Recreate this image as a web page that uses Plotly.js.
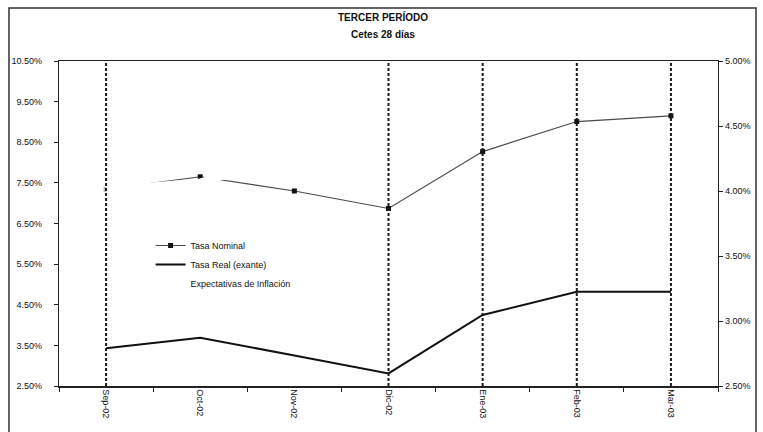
<!DOCTYPE html>
<html>
<head>
<meta charset="utf-8">
<script src="https://cdn.plot.ly/plotly-3.0.1.min.js"></script>
<style>
  html, body { margin: 0; padding: 0; background: #fff; }
  #chart { width: 763px; height: 432px; }
</style>
</head>
<body>
<div id="chart"></div>
<script>
// Months of the period
const months = ['Sep-02', 'Oct-02', 'Nov-02', 'Dic-02', 'Ene-03', 'Feb-03', 'Mar-03'];

// Cetes 28-day rates (%), left axis
const tasaNominal = [7.34, 7.65, 7.30, 6.87, 8.27, 9.01, 9.15];
const tasaReal = [3.43, 3.69, 3.25, 2.81, 4.25, 4.82, 4.82];

// Inflation expectations (%), right axis
const expectativas = [4.01, 4.07, 4.25, 4.40, 4.45, 4.62, 4.68];

// Months marked with a vertical reference line
const marcados = ['Sep-02', 'Dic-02', 'Ene-03', 'Feb-03', 'Mar-03'];

// Axis ticks
const leftTicks = [2.5, 3.5, 4.5, 5.5, 6.5, 7.5, 8.5, 9.5, 10.5];
const rightTicks = [2.5, 3.0, 3.5, 4.0, 4.5, 5.0];

const FONT = 'Liberation Sans, Arial, sans-serif';

const traces = [
  {
    name: 'Tasa Nominal',
    x: months, y: tasaNominal,
    type: 'scatter', mode: 'lines+markers',
    line: { color: '#4a4a4a', width: 1.2 },
    marker: { symbol: 'square', size: 5, color: '#111' },
    yaxis: 'y'
  },
  {
    name: 'Tasa Real (exante)',
    x: months, y: tasaReal,
    type: 'scatter', mode: 'lines',
    line: { color: '#111', width: 2 },
    yaxis: 'y'
  },
  {
    // white series, drawn over the nominal line on the secondary axis
    name: 'Expectativas de Inflación',
    x: months, y: expectativas,
    type: 'scatter', mode: 'lines+markers',
    line: { color: '#ffffff', width: 7 },
    marker: { symbol: 'square', size: [9, 0, 0, 0, 0, 0, 0], color: '#ffffff', line: { width: 0 } },
    yaxis: 'y2'
  }
];

const shapes = marcados.map(m => ({
  type: 'line', xref: 'x', yref: 'paper',
  x0: m, x1: m, y0: 0, y1: 1,
  line: { color: '#1a1a1a', width: 2, dash: '3px,2px' },
  layer: 'above'
}));

// Outer chart frame
shapes.push({
  type: 'rect', xref: 'paper', yref: 'paper',
  x0: -0.0759, x1: 1.0577, y0: -0.2, y1: 1.163,
  line: { color: '#333', width: 1.5 },
  fillcolor: 'rgba(0,0,0,0)'
});

const layout = {
  width: 763, height: 432,
  margin: { l: 59, r: 45, t: 61, b: 46 },
  paper_bgcolor: '#ffffff',
  plot_bgcolor: '#ffffff',
  font: { family: FONT, size: 9, color: '#111' },
  showlegend: true,
  legend: {
    x: 0.139, y: 0.477, xanchor: 'left', yanchor: 'top',
    bgcolor: 'rgba(0,0,0,0)', borderwidth: 0,
    font: { family: FONT, size: 9, color: '#111' },
    itemwidth: 30
  },
  xaxis: {
    type: 'category',
    range: [-0.5, 6.5],
    tickangle: 90,
    tickson: 'boundaries',
    ticks: 'outside', ticklen: 4, tickcolor: '#222',
    showline: true, linecolor: '#222', linewidth: 1.5, mirror: true,
    showgrid: false, zeroline: false,
    tickfont: { family: FONT, size: 9, color: '#111' }
  },
  yaxis: {
    range: [2.5, 10.5],
    tickvals: leftTicks,
    ticktext: leftTicks.map(v => v.toFixed(2) + '%'),
    ticks: 'outside', ticklen: 4, tickcolor: '#222',
    ticklabelstandoff: 10,
    showline: true, linecolor: '#222', linewidth: 1.2,
    showgrid: false, zeroline: false,
    tickfont: { family: FONT, size: 9, color: '#111' }
  },
  yaxis2: {
    overlaying: 'y', side: 'right',
    range: [2.5, 5.0],
    tickvals: rightTicks,
    ticktext: rightTicks.map(v => v.toFixed(2) + '%'),
    ticks: 'outside', ticklen: 4, tickcolor: '#222',
    showline: true, linecolor: '#222', linewidth: 1.2,
    showgrid: false, zeroline: false,
    tickfont: { family: FONT, size: 9, color: '#111' }
  },
  shapes: shapes,
  annotations: [
    {
      text: '<b>TERCER PERÍODO</b>', xref: 'paper', yref: 'paper',
      x: 0.4917, y: 1.135, xanchor: 'center', yanchor: 'middle',
      showarrow: false, font: { family: FONT, size: 10, color: '#111' }
    },
    {
      text: '<b>Cetes 28 días</b>', xref: 'paper', yref: 'paper',
      x: 0.4917, y: 1.083, xanchor: 'center', yanchor: 'middle',
      showarrow: false, font: { family: FONT, size: 10, color: '#111' }
    }
  ]
};

Plotly.newPlot('chart', traces, layout, { displayModeBar: false, staticPlot: true });
</script>
</body>
</html>
